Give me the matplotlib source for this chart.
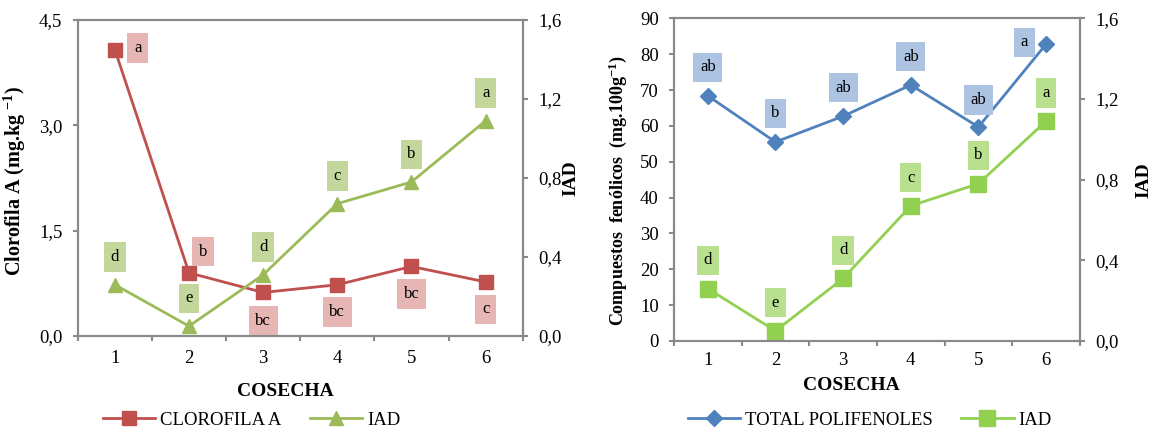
import matplotlib
matplotlib.use("Agg")
import matplotlib.pyplot as plt
from matplotlib.ticker import FixedLocator

# --- Datos ---
cosecha = [1, 2, 3, 4, 5, 6]
clorofila = [4.08, 0.90, 0.62, 0.73, 0.99, 0.77]
iad = [0.26, 0.05, 0.31, 0.67, 0.78, 1.09]
polifenoles = [68.4, 55.5, 62.7, 71.4, 59.7, 82.8]

letras_cloro = ["a", "b", "bc", "bc", "bc", "c"]
letras_iad = ["d", "e", "d", "c", "b", "a"]
letras_poli = ["ab", "b", "ab", "ab", "ab", "a"]

# posiciones de las letras (en unidades de cada eje)
x_letras_cloro = [1.31, 2.185, 3, 4, 5, 6]
y_letras_cloro = [4.10, 1.20, 0.22, 0.34, 0.60, 0.38]
y_letras_iad = [0.40, 0.19, 0.45, 0.81, 0.92, 1.23]
x_letras_poli = [1, 2, 3, 4, 5, 5.68]
y_letras_poli = [76.3, 63.5, 70.7, 79.3, 67.2, 83.3]

ticks_cloro = [0, 1.5, 3.0, 4.5]
ticks_iad = [0, 0.4, 0.8, 1.2, 1.6]
ticks_poli = list(range(0, 100, 10))

# --- Estilo ---
plt.rcParams["font.family"] = "Liberation Serif"
plt.rcParams["mathtext.fontset"] = "custom"
plt.rcParams["mathtext.rm"] = "Liberation Serif:bold"
plt.rcParams["mathtext.default"] = "rm"

ROJO, ROJO_CAJA = "#C0504D", "#E6B6B5"
VERDE, VERDE_CAJA = "#9BBB59", "#C3D69B"
AZUL, AZUL_CAJA = "#4F81BD", "#ADC3E2"
VERDE2, VERDE2_CAJA = "#92D050", "#B9E08F"
GRIS = "#898989"


def coma(v, dec=1):
    return f"{v:.{dec}f}".replace(".", ",")


def estilo_ejes(ax, axb, xpad):
    ax.set_xlim(0.5, 6.5)
    ax.xaxis.set_major_locator(FixedLocator(cosecha))
    ax.set_xticklabels([str(c) for c in cosecha])
    ax.xaxis.set_minor_locator(FixedLocator([c - 0.5 for c in cosecha] + [6.5]))
    ax.tick_params(axis="x", which="major", length=0, pad=xpad, labelsize=13.5)
    ax.tick_params(axis="x", which="minor", length=3.5, width=1.5, color=GRIS, direction="out")
    ax.tick_params(axis="y", length=3.5, width=1.5, color=GRIS, direction="out", pad=7.5, labelsize=13.5)
    axb.tick_params(axis="y", length=3.5, width=1.5, color=GRIS, direction="out", pad=7.5, labelsize=13.5)
    for a in (ax, axb):
        for s in a.spines.values():
            s.set_color(GRIS)
            s.set_linewidth(1.5)


def letra(ax, x, y, txt, color):
    ax.text(x, y, txt, ha="center", va="center", fontsize=12, zorder=5,
            bbox=dict(boxstyle="square,pad=0.4", fc=color, ec="none"))


fig = plt.figure(figsize=(11.55, 4.34), dpi=100)

# --- Gráfico izquierdo: clorofila + IAD ---
ax1 = fig.add_axes([0.0673, 0.2258, 0.3853, 0.7281])
ax1b = ax1.twinx()
estilo_ejes(ax1, ax1b, 10)

l1, = ax1.plot(cosecha, clorofila, color=ROJO, lw=2, marker="s", ms=10.5, label="CLOROFILA A")
l2, = ax1b.plot(cosecha, iad, color=VERDE, lw=2, marker="^", ms=10.5, label="IAD")
for x, y, t in zip(x_letras_cloro, y_letras_cloro, letras_cloro):
    letra(ax1, x, y, t, ROJO_CAJA)
for x, y, t in zip(cosecha, y_letras_iad, letras_iad):
    letra(ax1b, x, y, t, VERDE_CAJA)

ax1.set_ylim(0, 4.5)
ax1.yaxis.set_major_locator(FixedLocator(ticks_cloro))
ax1.set_yticklabels([coma(v) for v in ticks_cloro])
ax1b.set_ylim(0, 1.6)
ax1b.yaxis.set_major_locator(FixedLocator(ticks_iad))
ax1b.set_yticklabels([coma(v) for v in ticks_iad])

ax1.set_xlabel("COSECHA", fontsize=14, fontweight="bold")
ax1.xaxis.set_label_coords(0.467, -0.149)
ax1.set_ylabel(r"Clorofila A (mg.kg $^{-1}$)", fontsize=14.5, fontweight="bold")
ax1.yaxis.set_label_coords(-0.112, 0.49)
ax1b.set_ylabel("IAD", fontsize=14, fontweight="bold")
ax1b.yaxis.set_label_coords(1.088, 0.5)

fig.legend(handles=[l1, l2], loc="center", bbox_to_anchor=(0.2178, 0.032), ncol=2,
           frameon=False, fontsize=13.5, handlelength=2.8, handletextpad=0.25, columnspacing=1.5)

# --- Gráfico derecho: polifenoles + IAD ---
ax2 = fig.add_axes([0.5835, 0.2143, 0.3515, 0.7435])
ax2b = ax2.twinx()
estilo_ejes(ax2, ax2b, 8)

l3, = ax2.plot(cosecha, polifenoles, color=AZUL, lw=2, marker="D", ms=8, label="TOTAL POLIFENOLES")
l4, = ax2b.plot(cosecha, iad, color=VERDE2, lw=2, marker="s", ms=11, label="IAD")
for x, y, t in zip(x_letras_poli, y_letras_poli, letras_poli):
    letra(ax2, x, y, t, AZUL_CAJA)
for x, y, t in zip(cosecha, y_letras_iad, letras_iad):
    letra(ax2b, x, y, t, VERDE2_CAJA)

ax2.set_ylim(0, 90)
ax2.yaxis.set_major_locator(FixedLocator(ticks_poli))
ax2.set_yticklabels([str(v) for v in ticks_poli])
ax2b.set_ylim(0, 1.6)
ax2b.yaxis.set_major_locator(FixedLocator(ticks_iad))
ax2b.set_yticklabels([coma(v) for v in ticks_iad])

ax2.set_xlabel("COSECHA", fontsize=14, fontweight="bold")
ax2.xaxis.set_label_coords(0.438, -0.111)
ax2.set_ylabel(r"Compuestos  fenólicos  (mg.100g$^{-1}$)", fontsize=13, fontweight="bold")
ax2.yaxis.set_label_coords(-0.11, 0.465)
ax2b.set_ylabel("IAD", fontsize=14, fontweight="bold")
ax2b.yaxis.set_label_coords(1.137, 0.5)

fig.legend(handles=[l3, l4], loc="center", bbox_to_anchor=(0.753, 0.032), ncol=2,
           frameon=False, fontsize=13.5, handlelength=2.8, handletextpad=0.25, columnspacing=1.5)

fig.savefig("out.png", dpi=100)
